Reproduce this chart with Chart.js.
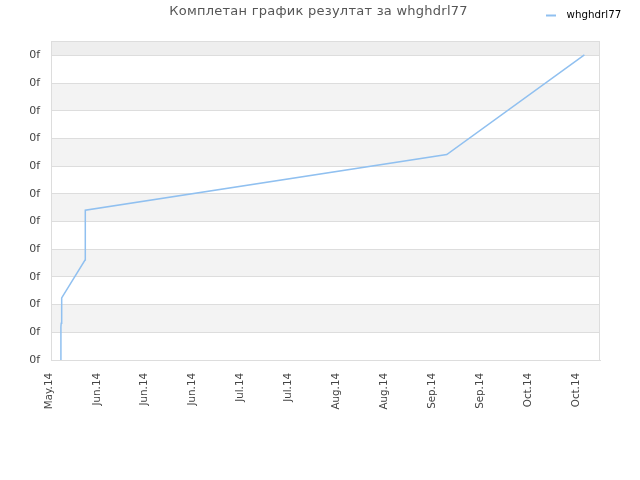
<!DOCTYPE html>
<html>
<head>
<meta charset="utf-8">
<script src="https://cdn.jsdelivr.net/npm/chart.js@4"></script>
<style>
html,body{margin:0;padding:0;background:#fff;}
#wrap{width:640px;height:480px;position:relative;}
</style>
</head>
<body>
<div id="wrap"><canvas id="c" width="640" height="480"></canvas></div>
<script>
const titleText = "Комплетан график резултат за whghdrl77";
const seriesName = "whghdrl77";
const xTickLabels = ["May.14","Jun.14","Jun.14","Jun.14","Jul.14","Jul.14","Aug.14","Aug.14","Sep.14","Sep.14","Oct.14","Oct.14"];
const yTickLabels = ["0f","0f","0f","0f","0f","0f","0f","0f","0f","0f","0f","0f"];
const xValues = [0.203, 0.207, 0.213, 0.223, 0.710, 0.716, 8.261, 11.134];
const yValues = [0, 1.2, 1.33, 2.24, 3.61, 5.41, 7.42, 11.02];

const FONT = "'DejaVu Sans', sans-serif";
const lineColor = "#90c0f0";

const bandPlugin = {
  id: 'bands',
  beforeDraw(chart) {
    const {ctx, chartArea: a, scales: {y}} = chart;
    ctx.save();
    const n = yTickLabels.length;
    for (let i = 0; i < n; i++) {
      const lo = y.getPixelForValue(i);
      const hi = i + 1 < n ? y.getPixelForValue(i + 1) : a.top;
      ctx.fillStyle = (i % 2 === 1) ? (i === n - 1 ? '#eeeeee' : '#f3f3f3') : '#ffffff';
      ctx.fillRect(a.left, hi, a.right - a.left, lo - hi);
    }
    ctx.restore();
  },
  afterDraw(chart) {
    const {ctx, chartArea: a} = chart;
    ctx.save();
    ctx.strokeStyle = '#dddddd';
    ctx.lineWidth = 1;
    ctx.strokeRect(Math.round(a.left) + 0.5, Math.round(a.top) + 0.5, Math.round(a.right - a.left) - 1, Math.round(a.bottom - a.top));
    // title
    ctx.fillStyle = '#555555';
    ctx.font = "13px " + FONT;
    ctx.textAlign = 'center';
    ctx.textBaseline = 'middle';
    if ('letterSpacing' in ctx) ctx.letterSpacing = '0.25px';
    ctx.fillText(titleText, 318.5, 12);
    if ('letterSpacing' in ctx) ctx.letterSpacing = '0px';
    // legend
    ctx.strokeStyle = lineColor;
    ctx.lineWidth = 2;
    ctx.beginPath();
    ctx.moveTo(546, 15.5);
    ctx.lineTo(556, 15.5);
    ctx.stroke();
    ctx.fillStyle = '#000000';
    ctx.font = "10.3px " + FONT;
    ctx.textAlign = 'left';
    ctx.fillText(seriesName, 566.5, 15);
    ctx.restore();
  }
};

new Chart(document.getElementById('c'), {
  type: 'line',
  data: {
    datasets: [{
      label: seriesName,
      data: xValues.map((x, i) => ({x: x, y: yValues[i]})),
      borderColor: lineColor,
      borderWidth: 1.5,
      pointRadius: 0,
      tension: 0,
      fill: false
    }]
  },
  options: {
    responsive: false,
    animation: false,
    devicePixelRatio: 1,
    layout: {padding: {top: 41, right: 40, left: 0, bottom: 0}},
    plugins: {legend: {display: false}, title: {display: false}, tooltip: {enabled: false}},
    scales: {
      x: {
        type: 'linear',
        min: 0,
        max: 11.46,
        afterBuildTicks: s => { s.ticks = xTickLabels.map((_, i) => ({value: i})); },
        afterFit: s => { s.height = 120; },
        grid: {display: false, drawTicks: false},
        border: {display: true, color: '#dddddd'},
        ticks: {
          minRotation: 90, maxRotation: 90, autoSkip: false, padding: 13, labelOffset: -2,
          color: '#444444', font: {family: FONT, size: 10.3},
          callback: (v, i) => xTickLabels[i]
        }
      },
      y: {
        type: 'linear',
        min: 0,
        max: 11.52,
        afterBuildTicks: s => { s.ticks = yTickLabels.map((_, i) => ({value: i})); },
        afterFit: s => { s.width = 51; },
        grid: {color: '#dddddd', drawTicks: false},
        border: {display: true, color: '#dddddd'},
        ticks: {
          padding: 11, autoSkip: false,
          color: '#444444', font: {family: FONT, size: 11},
          callback: (v, i) => yTickLabels[i]
        }
      }
    }
  },
  plugins: [bandPlugin]
});
</script>
</body>
</html>
